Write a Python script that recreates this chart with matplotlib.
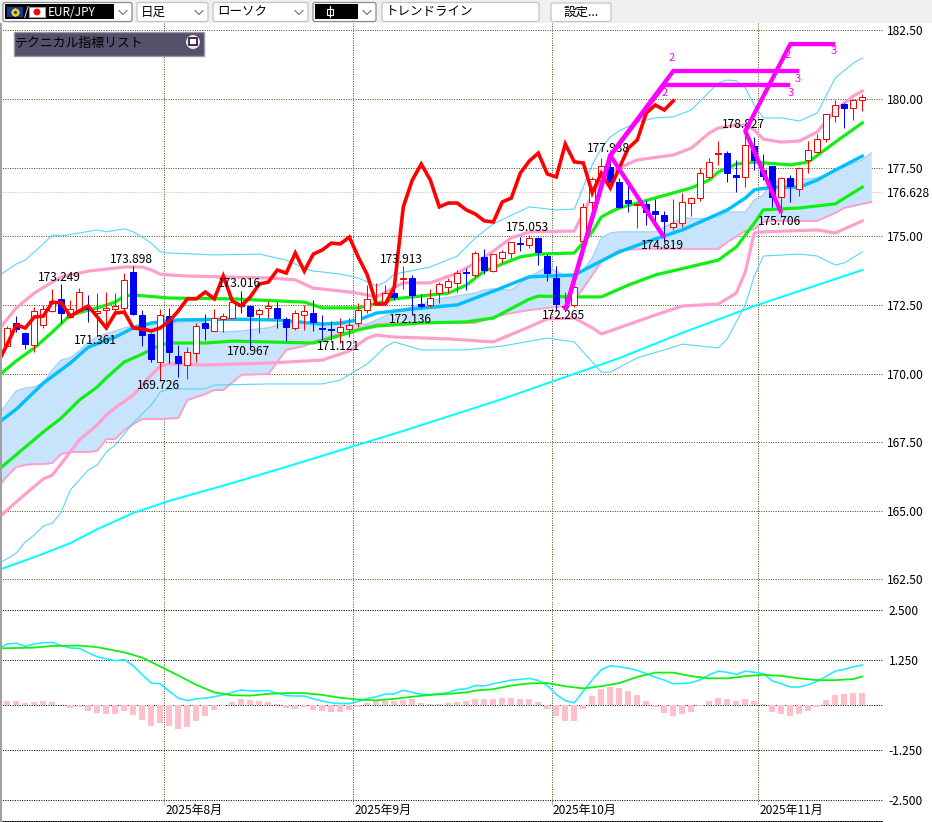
import numpy as np
import matplotlib
matplotlib.use("Agg")
import matplotlib.pyplot as plt
from matplotlib.patches import Rectangle, Circle, FancyBboxPatch

plt.rcParams['font.family'] = ['Noto Sans CJK JP', 'DejaVu Sans']

# daily candles, EUR/JPY
opens = [171.00,171.84,171.48,171.04,171.77,172.28,172.72,172.06,172.28,172.39,
         172.20,172.31,172.35,172.39,173.70,172.13,171.44,170.42,172.09,170.64,
         170.31,170.75,171.84,171.55,171.98,172.02,172.53,172.46,172.17,172.39,
         172.39,171.98,171.66,172.13,172.20,171.66,171.62,171.51,171.62,171.84,
         172.31,172.53,172.60,172.93,173.44,173.48,172.53,172.50,172.93,173.15,
         173.30,173.70,173.59,174.24,173.73,174.21,174.39,174.75,174.68,174.94,
         174.28,173.48,172.42,172.50,174.83,176.25,177.05,177.52,176.98,176.32,
         176.14,176.17,175.92,175.77,175.34,175.48,176.21,176.39,177.16,178.00,
         178.03,177.23,177.16,178.29,177.41,177.56,176.43,177.12,176.72,177.78,
         178.07,178.54,179.38,179.82,179.67,179.96]
closes = [171.66,171.62,171.07,172.28,172.35,172.64,172.20,172.35,172.97,172.35,
          172.28,172.39,172.46,173.41,172.17,171.40,170.53,172.13,170.78,170.38,
          170.78,171.73,171.66,172.02,172.09,172.60,172.46,172.09,172.31,172.46,
          172.02,171.69,172.20,172.28,171.88,171.62,171.59,171.69,171.77,172.31,
          172.72,172.57,172.93,172.79,173.48,172.86,172.46,172.75,173.26,173.37,
          173.66,173.66,174.39,173.77,174.35,174.43,174.79,174.72,174.94,174.43,
          173.66,172.53,172.46,173.15,176.06,177.09,177.56,176.98,176.06,176.21,
          176.17,175.88,175.81,175.56,175.48,176.25,176.39,177.30,177.71,178.03,
          177.30,177.16,178.33,177.78,177.20,176.43,177.12,176.83,177.49,178.14,
          178.54,179.45,179.78,179.67,179.96,180.07]
highs = [171.73,172.09,171.51,172.42,172.50,173.08,173.25,172.68,173.11,172.86,
         172.93,172.97,172.93,173.66,173.90,172.31,171.48,172.35,172.39,171.04,
         170.96,171.84,172.17,172.35,172.20,172.79,173.01,172.50,172.39,172.64,
         172.60,172.06,172.31,172.50,172.68,172.13,171.91,172.02,172.02,172.57,
         173.22,173.30,173.22,173.15,173.91,173.59,172.90,173.08,173.33,173.48,
         173.77,173.84,174.46,174.53,174.35,174.50,174.79,174.97,175.05,174.97,
         174.35,173.92,172.97,173.19,176.21,177.16,177.85,177.94,177.12,176.94,
         176.21,176.32,176.36,175.92,176.36,176.58,176.43,177.49,177.85,178.47,
         178.11,177.78,178.83,178.62,177.99,177.56,177.16,177.23,177.52,178.47,
         178.72,179.45,179.96,179.86,180.00,180.18]
lows = [171.00,171.51,170.89,170.78,171.66,172.24,171.84,172.02,172.24,171.88,
        171.36,171.66,172.13,172.31,172.13,171.00,170.42,169.73,170.38,169.87,
        169.80,170.42,171.22,171.55,171.51,172.02,172.20,170.97,171.48,172.02,
        171.66,171.18,171.59,171.59,171.55,171.22,171.22,171.12,171.33,171.69,
        172.20,172.50,172.57,172.68,173.08,172.14,172.39,172.42,172.57,172.93,
        172.97,173.04,173.52,173.62,173.70,174.03,174.21,174.46,174.57,173.95,
        173.37,172.27,172.28,172.42,174.75,175.85,176.69,176.94,176.03,175.88,
        175.30,175.41,175.48,174.82,175.23,175.34,175.74,176.28,177.12,177.60,
        176.98,176.61,176.79,177.41,177.05,176.07,175.71,176.25,176.47,177.30,
        178.03,178.43,179.16,178.94,179.24,179.56]

# lagging close line, one value per bar starting one bar left of the first candle
lag_line = [170.42,171.07,171.77,171.66,172.06,172.09,172.60,172.57,172.09,172.28,
            172.46,172.06,171.66,172.20,172.24,171.66,171.62,171.55,171.66,171.91,
            172.28,172.72,172.72,172.97,172.72,173.55,172.64,172.46,172.79,173.26,
            173.33,173.77,173.66,174.39,173.73,174.35,174.50,174.75,174.72,174.97,
            174.24,173.59,172.53,172.53,173.15,176.07,177.05,177.63,177.05,176.07,
            176.21,176.21,175.96,175.81,175.56,175.52,176.25,176.39,177.30,177.74,
            178.03,177.27,177.16,178.36,177.71,177.67,176.58,177.30,176.76,177.49,
            178.21,178.51,179.49,179.78,179.60,179.93]

# band lines, read at the bars where the line visibly bends
upper_thin_x = [-1,0,1,2,3,4,5,6,8,10,11,13,14,15,16,17,18,23,28,31,33,34,35,37,39,41,42,43,47,50,52,54,58,61,63,65,66,67,68,70,72,74,76,77,78,79,80,81,82,83,84,86,88,90,92,94,95]
upper_thin = [173.55,173.77,173.99,174.13,174.43,174.72,175.05,175.01,175.12,175.23,175.16,175.27,175.16,174.97,174.75,174.43,174.39,174.32,174.35,174.13,173.84,173.73,173.70,173.62,173.48,173.19,173.33,173.62,173.88,174.28,174.94,175.45,176.07,175.96,175.99,177.60,178.21,178.62,178.84,179.16,179.31,179.35,179.60,179.93,180.26,180.58,180.69,180.66,180.40,179.78,179.31,179.31,179.20,179.49,180.77,181.31,181.49]

upper_pink_x = [-1,1,3,5,6,9,13,15,16,17,18,20,29,32,34,36,38,40,41,44,47,50,52,54,56,58,63,65,66,68,70,74,76,78,79,81,82,83,84,86,88,90,92,94,95]
upper_pink = [171.59,172.39,172.93,173.33,173.52,173.73,173.88,173.88,173.77,173.62,173.59,173.55,173.48,173.41,173.11,173.04,172.97,172.86,172.79,173.30,173.30,173.66,174.03,174.46,174.94,175.16,175.19,176.50,177.09,177.49,177.78,177.96,178.21,178.76,178.94,179.05,179.05,178.87,178.54,178.43,178.47,178.80,179.60,180.11,180.29]

upper_green_x = [-1,1,3,5,7,10,12,13,14,18,25,33,35,39,43,49,51,53,57,59,63,65,66,67,68,74,76,78,79,81,83,87,89,92,95]
upper_green = [169.91,170.46,170.93,171.51,172.13,172.39,172.60,172.82,172.86,172.75,172.72,172.60,172.39,172.39,172.72,172.93,173.22,173.73,174.25,174.35,174.39,175.16,175.70,175.88,176.03,176.58,176.76,177.05,177.34,177.63,177.70,177.60,177.70,178.43,179.13]

mid_blue_x = [-1,1,4,7,9,12,14,16,19,25,30,35,37,39,41,45,50,54,58,63,66,68,71,75,80,82,83,85,88,90,92,95]
mid_blue = [168.20,168.70,169.65,170.38,170.96,171.33,171.66,171.84,171.95,171.98,171.95,171.80,171.84,171.95,172.20,172.35,172.50,173.00,173.52,173.59,174.10,174.43,174.79,175.23,175.96,176.39,176.69,176.79,176.79,177.05,177.41,177.92]

lower_green_x = [-1,2,4,6,8,10,11,13,15,17,18,22,25,34,36,39,41,46,51,54,58,59,63,66,69,72,79,81,83,84,88,92,95]
lower_green = [166.49,167.32,167.87,168.38,169.03,169.51,169.84,170.42,170.71,171.04,171.11,171.11,171.18,171.11,171.29,171.59,171.73,171.84,171.88,172.02,172.71,172.82,172.79,172.79,173.22,173.59,174.13,174.61,175.48,175.96,176.03,176.18,176.79]

lower_pink_x = [-1,2,4,5,7,8,10,11,12,14,15,16,17,18,22,29,35,36,38,40,41,43,49,54,58,60,63,65,66,72,75,79,81,82,83,84,90,92,95]
lower_pink = [164.74,165.61,166.16,166.30,167.14,167.58,168.13,168.49,168.75,169.22,169.58,169.95,170.27,170.35,170.31,170.38,170.49,170.60,170.82,171.29,171.40,171.33,171.26,171.15,171.70,171.99,172.02,171.66,171.44,172.13,172.46,172.53,172.93,173.70,175.12,175.16,175.23,175.12,175.56]

lower_thin_x = [-1,1,2,3,4,5,6,7,8,9,10,11,12,14,16,17,18,22,23,29,35,37,40,42,43,46,51,55,60,63,65,66,67,70,73,75,79,80,81,82,83,84,88,90,92,93,95]
lower_thin = [163.06,163.46,163.86,164.12,164.44,164.55,164.95,165.76,166.12,166.49,166.67,167.14,167.40,168.20,168.85,169.33,169.44,169.44,169.58,169.62,169.62,169.76,170.35,170.97,171.15,170.86,170.86,171.00,171.29,171.15,170.42,170.05,170.05,170.57,170.86,171.07,170.93,171.26,171.88,172.50,173.55,174.28,174.35,174.28,173.95,174.03,174.43]

long_ma_x = [-1,3,7,10,14,18,25,32,44,55,61,68,75,83,95]
long_ma = [162.84,163.31,163.82,164.33,164.92,165.36,166.01,166.70,167.91,169.07,169.76,170.56,171.48,172.46,173.77]

# cloud, runs on past the last candle
cloud_x = [-1,0,1,2,3,4,5,6,7,8,9,10,11,12,13,14,15,16,17,19,20,22,23,24,26,29,31,33,34,36,38,40,41,43,48,52,53,54,56,58,60,61,62,63,64,65,66,67,68,71,72,75,77,79,80,82,83,84,85,90,92,93,95,96]
cloud_top = [168.45,168.93,169.36,169.47,169.51,169.65,170.13,170.49,170.57,170.82,171.15,171.33,171.44,171.55,171.66,171.73,171.80,171.84,171.84,171.84,171.91,171.88,171.55,171.51,171.55,171.66,171.88,171.88,171.84,171.77,171.77,171.80,171.95,172.24,172.72,172.93,173.04,173.08,173.04,173.52,173.88,173.73,173.55,173.59,173.77,174.21,174.94,175.12,175.16,175.16,175.16,175.67,175.63,175.70,175.88,175.88,176.32,176.50,176.98,177.12,177.41,177.52,177.78,178.03]
cloud_bot = [165.87,166.27,166.59,166.67,166.70,166.70,166.74,167.07,167.14,167.14,167.14,167.18,167.61,167.61,167.94,168.16,168.34,168.34,168.34,168.38,169.03,169.25,169.40,169.40,169.95,169.98,170.86,171.00,171.15,171.37,171.51,171.73,171.80,171.84,171.84,171.84,171.95,172.06,172.20,172.31,172.39,172.42,172.46,172.68,173.11,173.59,174.06,174.28,174.50,174.54,174.54,174.54,174.54,174.54,174.79,175.19,175.26,175.52,175.56,175.56,175.85,176.03,176.18,176.25]

# trend lines (bar, price)
trend_a_x = [62, 67, 74, 88]
trend_a_y = [172.30, 177.94, 181.02, 181.02]
trend_b_x = [62, 67, 73, 87]
trend_b_y = [172.30, 177.94, 180.51, 180.51]
trend_c_x = [67, 73]
trend_c_y = [177.94, 174.95]
trend_d_x = [86, 82, 87, 92]
trend_d_y = [175.85, 178.83, 182.00, 182.00]

# high / low labels
label_bars = [6, 14, 26, 44, 58, 67, 82]
label_texts = ['173.249', '173.898', '173.016', '173.913', '175.053', '177.938', '178.827']
label_prices = [173.249, 173.898, 173.016, 173.913, 175.053, 177.938, 178.827]
low_bars = [10, 17, 27, 37, 45, 62, 73, 86]
low_texts = ['171.361', '169.726', '170.967', '171.121', '172.136', '172.265', '174.819', '175.706']
low_prices = [171.361, 169.726, 170.967, 171.121, 172.136, 172.265, 174.819, 175.706]

# macd panel
macd_hist = [0.12,0.12,0.06,0.08,0.12,0.08,0.01,-0.07,-0.06,-0.16,
             -0.21,-0.24,-0.24,-0.18,-0.27,-0.41,-0.57,-0.49,-0.57,-0.66,
             -0.60,-0.44,-0.30,-0.13,-0.04,0.08,0.18,0.15,0.12,0.09,
             0.04,-0.07,-0.10,-0.06,-0.13,-0.16,-0.19,-0.19,-0.13,-0.05,
             0.06,0.12,0.12,0.12,0.15,0.18,0.06,0.04,0.04,0.06,
             0.09,0.12,0.18,0.18,0.18,0.20,0.20,0.18,0.18,0.08,
             -0.10,-0.30,-0.44,-0.44,-0.10,0.26,0.45,0.51,0.48,0.40,
             0.29,0.12,-0.06,-0.21,-0.30,-0.24,-0.19,-0.03,0.12,0.20,
             0.18,0.12,0.18,0.12,0.04,-0.19,-0.24,-0.30,-0.24,-0.16,
             -0.05,0.15,0.29,0.31,0.34,0.34]
macd_line = [1.54,1.65,1.67,1.59,1.65,1.68,1.69,1.61,1.55,1.54,1.43,1.33,1.28,1.23,1.26,1.09,0.84,0.61,0.59,0.38,0.19,0.12,0.17,0.19,0.23,0.28,0.35,0.42,0.39,0.39,0.40,0.33,0.26,0.25,0.25,0.17,0.11,0.06,0.04,0.04,0.10,0.18,0.23,0.30,0.31,0.41,0.35,0.30,0.29,0.31,0.35,0.43,0.45,
             0.54,0.53,0.59,0.64,0.69,0.71,0.74,0.68,0.54,0.29,0.12,0.06,0.38,0.70,0.98,1.09,1.06,1.02,0.96,0.87,0.77,0.69,0.59,0.60,0.62,0.70,0.84,0.94,0.91,0.85,0.94,0.91,0.87,0.67,0.59,0.50,0.50,0.56,0.66,0.80,0.94,0.99,1.06,1.11]
signal_x = [-1,3,5,8,10,13,15,17,19,21,23,25,27,29,31,33,35,37,39,41,43,45,47,49,51,52,54,56,58,60,62,64,66,68,70,72,74,76,78,80,82,84,86,88,90,92,94,95]
signal = [1.54,1.56,1.60,1.61,1.57,1.44,1.31,1.07,0.82,0.56,0.35,0.27,0.26,0.31,0.33,0.33,0.28,0.20,0.15,0.13,0.17,0.23,0.28,0.31,0.35,0.40,0.44,0.54,0.60,0.61,0.52,0.46,0.52,0.61,0.78,0.90,0.90,0.80,0.74,0.74,0.80,0.84,0.81,0.74,0.69,0.69,0.72,0.79]

price_ticks = [182.5, 180.0, 177.5, 176.628, 175.0, 172.5, 170.0, 167.5, 165.0, 162.5]
price_tick_labels = ['182.50', '180.00', '177.50', '176.628', '175.00', '172.50', '170.00', '167.50', '165.00', '162.50']
macd_ticks = [2.5, 1.25, 0, -1.25, -2.5]
macd_tick_labels = ['2.500', '1.250', '', '-1.250', '-2.500']
month_bars = [17.44, 38.44, 60.49, 83.44]
month_labels = ['2025年8月', '2025年9月', '2025年10月', '2025年11月']

PINK = '#ffa0cc'
GREEN = '#10f010'
SKY = '#00bfff'
THIN = '#55d5ff'
GRID = '#50521f'
dots = (0, (1, 1.4))
px = 0.72  # one pixel in points at dpi 100
TXT = 8.6

fig = plt.figure(figsize=(9.32, 8.22), dpi=100, facecolor='white')
ax = fig.add_axes([0, 222 / 822, 883 / 932, 578 / 822])
ax2 = fig.add_axes([0, 1 / 822, 883 / 932, 221 / 822])

# price panel
ax.set_xlim(-0.811, 97.3)
ax.set_ylim(161.749, 182.805)
ax.set_yticks(price_ticks, labels=price_tick_labels)
ax.set_xticks([])
ax.yaxis.tick_right()
ax.tick_params(axis='y', length=0, pad=3, labelsize=TXT)
ax.grid(axis='y', color=GRID, linestyle=dots, linewidth=px)
ax.set_axisbelow(True)
ax.get_ygridlines()[3].set_color('#c4c4c4')
for s in ax.spines.values():
    s.set_visible(False)
for m in month_bars:
    ax.axvline(m, color=GRID, linestyle=dots, linewidth=px, zorder=0.5)

ax.fill_between(cloud_x, cloud_bot, cloud_top, color='#c8e3fc', linewidth=0, zorder=1)
ax.plot(cloud_x, cloud_top, color='#a6d2f8', lw=1.5 * px, zorder=1.2)
ax.plot(cloud_x, cloud_bot, color=PINK, lw=2 * px, zorder=1.2)

ax.plot(long_ma_x, long_ma, color='#00ffff', lw=2 * px, zorder=1.5)
ax.plot(upper_thin_x, upper_thin, color=THIN, lw=1.1 * px, zorder=1.5)
ax.plot(lower_thin_x, lower_thin, color=THIN, lw=1.1 * px, zorder=1.5)
ax.plot(upper_pink_x, upper_pink, color=PINK, lw=3.2 * px, zorder=1.6)
ax.plot(lower_pink_x, lower_pink, color=PINK, lw=3.2 * px, zorder=1.6)
ax.plot(upper_green_x, upper_green, color=GREEN, lw=3.2 * px, zorder=1.7)
ax.plot(lower_green_x, lower_green, color=GREEN, lw=3.2 * px, zorder=1.7)
ax.plot(mid_blue_x, mid_blue, color=SKY, lw=3.4 * px, zorder=1.7)

bars = np.arange(len(opens))
o, c, h, l = map(np.array, (opens, closes, highs, lows))
up = c >= o
ax.vlines(bars[up], l[up], h[up], color='#ff0000', lw=px, zorder=3)
ax.vlines(bars[~up], l[~up], h[~up], color='#0000ff', lw=px, zorder=3)
ax.bar(bars[up], (c - o)[up], bottom=o[up], width=0.7, facecolor='white',
       edgecolor='#ff0000', linewidth=px, zorder=3.1)
ax.bar(bars[~up], (c - o)[~up], bottom=o[~up], width=0.7, facecolor='#0000ff',
       edgecolor='#0000ff', linewidth=px, zorder=3.1)

ax.plot(np.arange(len(lag_line)) - 1, lag_line, color='#ff0000', lw=3.6 * px,
        solid_joinstyle='miter', zorder=4)

for b, t, p in zip(label_bars, label_texts, label_prices):
    ax.annotate(t, (b, p), xytext=(-1.5, 5), textcoords='offset points', ha='center',
                va='center', fontsize=TXT, zorder=5)
for b, t, p in zip(low_bars, low_texts, low_prices):
    ax.annotate(t, (b, p), xytext=(-1.5, -3), textcoords='offset points', ha='center',
                va='center', fontsize=TXT, zorder=5)

for xs, ys in [(trend_a_x, trend_a_y), (trend_b_x, trend_b_y),
               (trend_c_x, trend_c_y), (trend_d_x, trend_d_y)]:
    ax.plot(xs, ys, color='#ff00ff', lw=4.3 * px, solid_capstyle='butt', zorder=6)

# small wave numbers at the trend line ends
for xs, ys, off2, off3 in [(trend_a_x, trend_a_y, (-1, 9), (-1, -6)),
                           (trend_b_x, trend_b_y, (0, -6), (0, -6)),
                           (trend_d_x, trend_d_y, (-2, -8), (-1, -5))]:
    ax.annotate('2', (xs[-2], ys[-2]), xytext=off2, textcoords='offset points', ha='center',
                va='center', color='#ff00ff', fontsize=8, zorder=6)
    ax.annotate('3', (xs[-1], ys[-1]), xytext=off3, textcoords='offset points', ha='center',
                va='center', color='#ff00ff', fontsize=8, zorder=6)

# macd panel, the chart spaces its own gridlines unevenly
knots_v = [-3.5, -2.5, -1.25, 0, 1.25, 2.5, 3.5]
knots_p = [-133, -95, -45, 0, 45, 95, 133]
ax2.set_yscale('function', functions=(lambda v: np.interp(v, knots_v, knots_p),
                                      lambda p: np.interp(p, knots_p, knots_v)))
ax2.set_xlim(-0.811, 97.3)
ax2.set_ylim(-3.053, 2.763)
ax2.set_yticks(macd_ticks, labels=macd_tick_labels)
ax2.yaxis.set_minor_locator(matplotlib.ticker.NullLocator())
ax2.set_xticks([])
ax2.yaxis.tick_right()
ax2.tick_params(axis='y', length=0, pad=4, labelsize=TXT)
ax2.grid(axis='y', color='black', linestyle=dots, linewidth=px)
ax2.set_axisbelow(True)
for name, s in ax2.spines.items():
    s.set_visible(name == 'bottom')
ax2.spines['bottom'].set_linestyle(dots)
ax2.spines['bottom'].set_linewidth(px)
for m, t in zip(month_bars, month_labels):
    ax2.axvline(m, ymin=17 / 221, color=GRID, linestyle=dots, linewidth=px, zorder=0.5)
    ax2.text(m + 0.12, -2.763, t, fontsize=TXT, ha='left', va='center')

ax2.bar(bars, macd_hist, width=0.68, color='#ffc0cb', zorder=2)
ax2.plot(np.arange(len(macd_line)) - 1, macd_line, color='#19eeff', lw=1.6 * px, zorder=3)
ax2.plot(signal_x, signal, color=GREEN, lw=1.8 * px, zorder=3.1)

# toolbar and indicator panel, drawn in window pixels
ui = fig.add_axes([0, 0, 1, 1], facecolor='none')
ui.set_xlim(0, 932)
ui.set_ylim(822, 0)
ui.axis('off')
ui.add_patch(Rectangle((0, 0), 932, 23, facecolor='#f0f0f0', edgecolor='none'))
ui.add_patch(Rectangle((0, 23), 1.5, 799, facecolor='#a0a0a0', edgecolor='none'))


def dropdown(x0, x1, text=None, chevron=True, edge='#c4c4c4'):
    ui.add_patch(FancyBboxPatch((x0 + 2, 4.5), x1 - x0 - 4, 15, boxstyle='round,pad=2,rounding_size=2',
                                facecolor='white', edgecolor=edge, lw=0.9))
    if text:
        ui.text(x0 + 4, 12, text, fontsize=9, va='center', ha='left')
    if chevron:
        ui.plot([x1 - 13, x1 - 9, x1 - 5], [10.5, 14.5, 10.5], color='#707070', lw=0.8)


dropdown(3, 132, edge='#8c8c8c')
ui.add_patch(Rectangle((5, 4), 109, 15, facecolor='black', edgecolor='none'))
ui.add_patch(Rectangle((7, 7), 16, 10, facecolor='#0b3a9c', edgecolor='none'))
ui.add_patch(Rectangle((29, 7), 16, 10, facecolor='white', edgecolor='#a0a0a0', lw=0.8))
ui.add_patch(Circle((37, 12), 3.4, facecolor='#ff0000', edgecolor='none'))
for a in np.linspace(0, 2 * np.pi, 8, endpoint=False):
    ui.plot(15 + 3.4 * np.cos(a), 12 + 3.4 * np.sin(a), marker='s', ms=0.9, color='#ffd800')
ui.text(26, 12, '/', color='white', fontsize=9, ha='center', va='center')
ui.text(48, 12.5, 'EUR/JPY', color='white', fontsize=8.5, ha='left', va='center')
dropdown(137, 208, '日足')
dropdown(213, 308, 'ローソク')
dropdown(313, 376, edge='#8c8c8c')
ui.add_patch(Rectangle((315, 4), 43, 15, facecolor='black', edgecolor='none'))
ui.plot([329.5, 329.5], [6, 17], color='white', lw=0.8)
ui.add_patch(Rectangle((326.5, 9), 6, 6, facecolor='black', edgecolor='white', lw=0.8))
dropdown(382, 539, 'トレンドライン', chevron=False)
ui.add_patch(FancyBboxPatch((553, 5), 56, 14.5, boxstyle='round,pad=2,rounding_size=2',
                            facecolor='white', edgecolor='#c4c4c4', lw=0.9))
ui.text(581, 12.5, '設定...', fontsize=9, ha='center', va='center')

ui.add_patch(Rectangle((13.5, 32.5), 190, 23.5, facecolor='#55516a', edgecolor='#9a98a8', lw=1))
ui.text(15, 43, 'テクニカル指標リスト', fontsize=9.3, ha='left', va='center', color='black')
ui.add_patch(Circle((193, 42), 7, facecolor='#e8e8f2', edgecolor='none'))
ui.add_patch(Rectangle((189, 38.5), 8, 7, facecolor='white', edgecolor='#301020', lw=1.2))

fig.savefig('out.png', dpi=100)
